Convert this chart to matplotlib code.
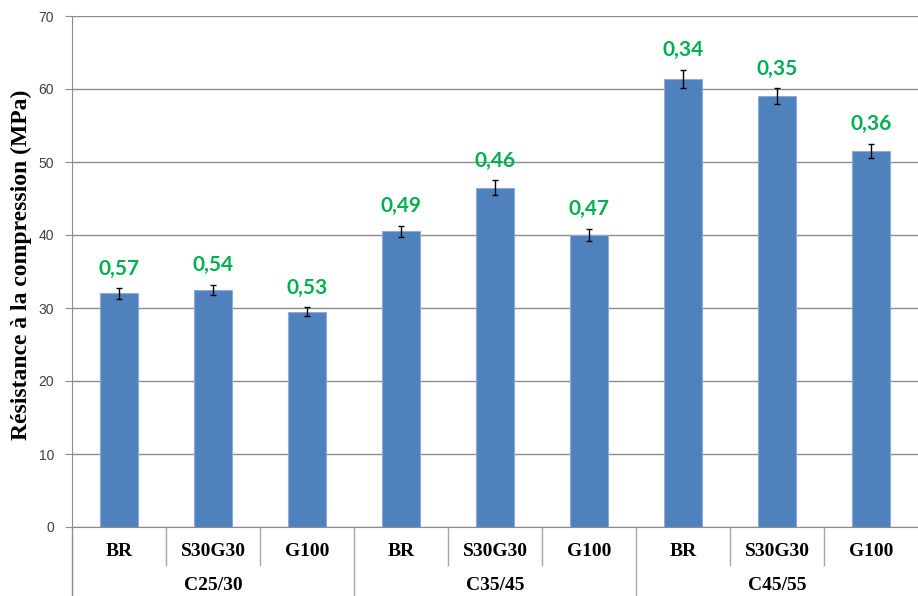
import matplotlib
matplotlib.use('Agg')
from matplotlib import pyplot as plt
from matplotlib.transforms import blended_transform_factory
import numpy as np

# data
groups = ['C25/30', 'C35/45', 'C45/55']
mixes = ['BR', 'S30G30', 'G100']
strength = [32.0, 32.5, 29.5, 40.5, 46.5, 40.0, 61.4, 59.0, 51.5]
errors = [0.7, 0.7, 0.6, 0.8, 1.0, 0.8, 1.2, 1.1, 1.0]
ratios = ['0,57', '0,54', '0,53', '0,49', '0,46', '0,47', '0,34', '0,35', '0,36']

W, H = 918, 596
fig = plt.figure(figsize=(W / 100, H / 100), dpi=100)
ax = fig.add_axes([72 / W, (H - 527) / H, 846 / W, 511 / H])

n = len(strength)
x = np.arange(n)
ax.bar(x, strength, width=0.41, color='#4F81BD', edgecolor='#8EAADB',
       linewidth=0.8, zorder=2)
ax.errorbar(x, strength, yerr=errors, fmt='none', ecolor='black',
            elinewidth=1, capsize=2.5, capthick=1, zorder=3)

for xi, v, e, lab in zip(x, strength, errors, ratios):
    ax.annotate(lab, (xi, v + e), xytext=(0, 7), textcoords='offset points',
                ha='center', va='bottom', color='#00B050', fontsize=15,
                fontweight='bold', family='Lato')

ax.set_xlim(-0.5, n - 0.5)
ax.set_ylim(0, 70)
ax.set_yticks(np.arange(0, 71, 10))
ax.yaxis.grid(True, color='#8C8C8C', linewidth=1, zorder=0)
ax.set_axisbelow(True)
ax.tick_params(axis='y', length=5, color='#8C8C8C', labelsize=10,
               labelcolor='#404040', pad=8)
for lab in ax.get_yticklabels():
    lab.set_family('Liberation Sans')
ax.set_xticks([])
for s in ['top', 'right']:
    ax.spines[s].set_visible(False)
ax.spines['left'].set_color('#8C8C8C')
ax.spines['bottom'].set_color('#8C8C8C')

fig.text(21 / W, 1 - 265 / H, 'Résistance à la compression (MPa)',
         rotation=90, ha='center', va='center', family='Liberation Serif',
         fontweight='bold', fontsize=17)

# two-level category axis below the plot
tr = blended_transform_factory(ax.transData, ax.transAxes)
short = -38 / 511
full = -80 / 511
for b in np.arange(0.5, n - 0.5, 1.0):
    low = full if (b + 0.5) % 3 == 0 else short
    ax.plot([b, b], [0, low], transform=tr, color='#A6A6A6', linewidth=1,
            clip_on=False)
ax.plot([-0.5, -0.5], [0, full], transform=tr, color='#8C8C8C', linewidth=1,
        clip_on=False)

for i in range(n):
    ax.text(i, -25 / 511, mixes[i % 3], transform=tr, ha='center', va='center',
            family='Liberation Serif', fontweight='bold', fontsize=14)
for g, name in enumerate(groups):
    ax.text(g * 3 + 1, -59 / 511, name, transform=tr, ha='center',
            va='center', family='Liberation Serif', fontweight='bold',
            fontsize=14)

fig.savefig('out.png', dpi=100)
